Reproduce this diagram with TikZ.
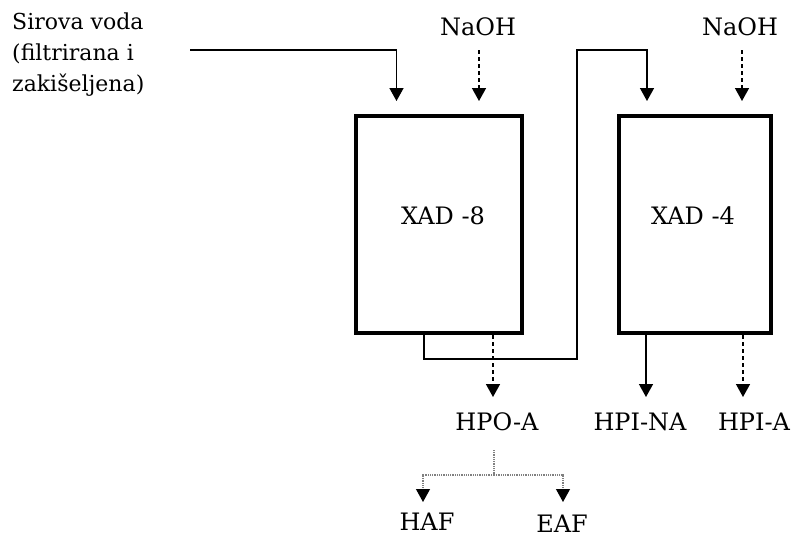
\documentclass[tikz,border=0pt]{standalone}
\usepackage{fontspec}
\setmainfont{DejaVu Serif}
\usetikzlibrary{arrows.meta}
\begin{document}
\begin{tikzpicture}[x=1pt,y=-1pt,
  lbl/.style={font=\fontsize{24}{28}\selectfont, inner sep=0pt, anchor=base},
  srctext/.style={font=\fontsize{22}{31}\selectfont, inner sep=0pt, anchor=north west, align=left},
  col/.style={draw, line width=4pt, inner sep=0pt, minimum height=217.5pt},
  tip/.style={-{Triangle[width=14pt,length=13pt]}},
  flow/.style={line width=1.5pt, tip},
  flowd/.style={flow, dash pattern=on 4pt off 3pt},
  treeln/.style={line width=1.2pt, gray, dash pattern=on 1pt off 0.8pt},
  treearr/.style={treeln, -{Triangle[width=14pt,length=13pt,color=black]}}]
\useasboundingbox (0,0) rectangle (793,536);

% texts
\node[srctext] (src) at (12,13) {Sirova voda\\(filtrirana i\\zakišeljena)};
\node[lbl] (naoh1) at (478,35) {NaOH};
\node[lbl] (naoh2) at (740,35) {NaOH};

% columns
\node[col, minimum width=166pt] (box1) at (438.5,224.3) {};
\node[col, minimum width=151.5pt] (box2) at (694.8,224.3) {};
\node[lbl] (xad8) at (443,224) {XAD -8};
\node[lbl] (xad4) at (693,224) {XAD -4};

% products
\node[lbl] (hpoa) at (497,430) {HPO-A};
\node[lbl] (hpina) at (640,430) {HPI-NA};
\node[lbl] (hpia) at (754,430) {HPI-A};
\node[lbl] (haf) at (427,530) {HAF};
\node[lbl] (eaf) at (562,532) {EAF};

% connector coordinates
\coordinate (inA) at (190,50);
\coordinate (inB) at (396.5,101);
\coordinate (n1a) at (479,50);
\coordinate (n1b) at (479,101);
\coordinate (n2a) at (742,50);
\coordinate (n2b) at (742,101);
\coordinate (l1) at (424,335);
\coordinate (l2) at (577,359);
\coordinate (l3) at (577,50);
\coordinate (l4) at (647,101);
\coordinate (o1a) at (493,335);
\coordinate (o1b) at (493,397);
\coordinate (o2a) at (646,335);
\coordinate (o2b) at (646,397);
\coordinate (o3a) at (743,335);
\coordinate (o3b) at (743,397);
\coordinate (t0) at (494,450);
\coordinate (t1) at (494,475);
\coordinate (t2) at (423,502);
\coordinate (t3) at (563,502);

% connectors
\draw[flow] (inA) -| (inB);
\draw[flowd] (n1a) -- (n1b);
\draw[flowd] (n2a) -- (n2b);
\draw[flow] (l1) |- (l2) -- (l3) -| (l4);
\draw[flowd] (o1a) -- (o1b);
\draw[flow] (o2a) -- (o2b);
\draw[flowd] (o3a) -- (o3b);
\draw[treeln] (t0) -- (t1);
\draw[treearr] (t1) -| (t2);
\draw[treearr] (t1) -| (t3);
\end{tikzpicture}
\end{document}
